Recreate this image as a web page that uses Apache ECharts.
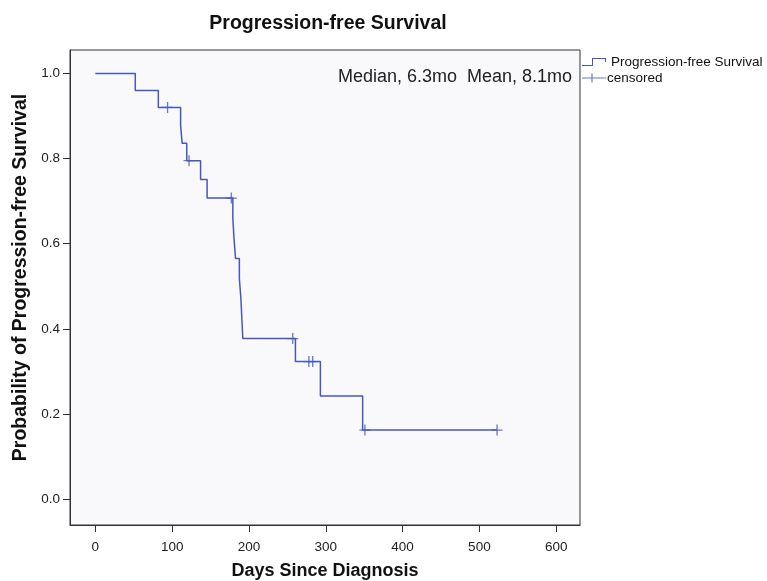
<!DOCTYPE html>
<html>
<head>
<meta charset="utf-8">
<script src="https://cdn.jsdelivr.net/npm/echarts@6/dist/echarts.min.js"></script>
<style>
  html, body { margin: 0; padding: 0; background: #fff; }
  #main { width: 767px; height: 581px; }
</style>
</head>
<body>
<div id="main"></div>
<script>
// Kaplan-Meier steps (days, survival after the event)
var eventDays = [0, 52, 82, 111, 113, 119, 137, 145.5, 179, 180.5, 182.5, 187.5, 189.5, 192, 260.5, 293, 348, 523];
var survival = [1.0, 0.96, 0.92, 0.878, 0.836, 0.795, 0.751, 0.707, 0.660, 0.613, 0.565, 0.518, 0.471, 0.377, 0.323, 0.242, 0.162, 0.162];

// censored marks
var censorDays = [94, 122, 177, 257, 278, 283, 351, 523];
var censorSurv = [0.92, 0.795, 0.707, 0.377, 0.323, 0.323, 0.162, 0.162];

var xTicks = [0, 100, 200, 300, 400, 500, 600];
var yTicks = [0, 0.2, 0.4, 0.6, 0.8, 1.0];

var blue = '#4657bd';
var font = 'Liberation Sans';

var curve = eventDays.map(function (d, i) { return [d, survival[i]]; });
var censored = censorDays.map(function (d, i) { return [d, censorSurv[i]]; });

var plusPath = 'path://M-0.6,-5 L0.6,-5 L0.6,5 L-0.6,5 Z M-5,-0.6 L5,-0.6 L5,0.6 L-5,0.6 Z';

var option = {
  animation: false,
  textStyle: { fontFamily: font },
  title: [{
    text: 'Progression-free Survival',
    left: 323,
    textAlign: 'center',
    top: 9,
    textStyle: { fontSize: 19.5, fontWeight: 'bold', color: '#111', fontFamily: font }
  }, {
    text: 'Median, 6.3mo  Mean, 8.1mo',
    left: 333,
    top: 63,
    textStyle: { fontSize: 18, fontWeight: 'normal', color: '#222', fontFamily: font }
  }],
  legend: {
    orient: 'vertical',
    left: 582,
    top: 55,
    padding: 0,
    itemWidth: 24,
    itemHeight: 9,
    itemGap: 2,
    textStyle: { fontSize: 13.5, color: '#111', fontFamily: font },
    data: [
      { name: 'Progression-free Survival',
        icon: 'path://M0,7 L10,7 L10,0 L24,0 L24,4 L23,4 L23,1 L11,1 L11,8 L0,8 Z' },
      { name: 'censored',
        icon: 'path://M0,4 L9.4,4 L9.4,0 L10.6,0 L10.6,4 L24,4 L24,5 L10.6,5 L10.6,9 L9.4,9 L9.4,5 L0,5 Z',
        textStyle: { padding: [0, 0, 0, -4] } }
    ]
  },
  grid: {
    left: 70,
    right: 187,
    top: 50,
    bottom: 56,
    outerBoundsMode: 'none',
    show: true,
    backgroundColor: '#f9f9fb',
    borderColor: '#333',
    borderWidth: 1
  },
  xAxis: {
    type: 'value',
    min: -33,
    max: 631,
    name: 'Days Since Diagnosis',
    nameLocation: 'middle',
    nameGap: 37,
    nameTextStyle: { fontSize: 18, fontWeight: 'bold', color: '#111', fontFamily: font },
    axisLine: { show: true, onZero: false, lineStyle: { color: '#333' } },
    splitLine: { show: false },
    axisTick: { show: true, length: 7, customValues: xTicks, lineStyle: { color: '#333' } },
    axisLabel: { customValues: xTicks, fontSize: 13.5, color: '#222', margin: 15 }
  },
  yAxis: {
    type: 'value',
    min: -0.061,
    max: 1.055,
    name: 'Probability of Progression-free Survival',
    nameLocation: 'middle',
    nameGap: 38,
    nameTextStyle: {
      fontSize: 19.5, fontWeight: 'bold', color: '#111', fontFamily: font,
      padding: [0, 0, 0, 20]
    },
    axisLine: { show: true, onZero: false, lineStyle: { color: '#333' } },
    splitLine: { show: false },
    axisTick: { show: true, length: 7, customValues: yTicks, lineStyle: { color: '#333' } },
    axisLabel: {
      customValues: yTicks, fontSize: 13.5, color: '#222', margin: 10,
      formatter: function (v) { return v.toFixed(1); }
    }
  },
  series: [{
    name: 'Progression-free Survival',
    type: 'line',
    step: 'end',
    data: curve,
    showSymbol: false,
    symbol: 'none',
    color: blue,
    lineStyle: { color: blue, width: 1.5 }
  }, {
    name: 'censored',
    type: 'scatter',
    data: censored,
    symbol: plusPath,
    symbolSize: 11,
    color: blue,
    itemStyle: { color: blue }
  }]
};

echarts.init(document.getElementById('main')).setOption(option);
</script>
</body>
</html>
